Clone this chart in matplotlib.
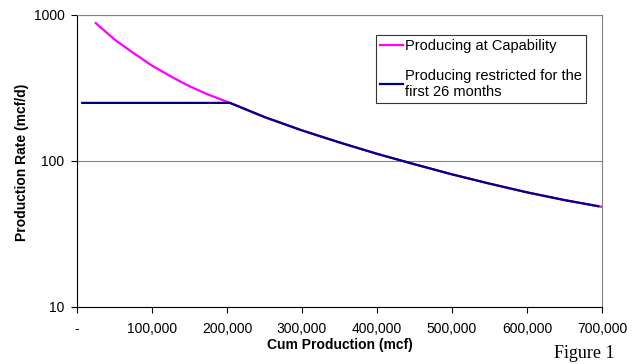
import matplotlib
matplotlib.use("Agg")
import matplotlib.pyplot as plt
from matplotlib.ticker import FixedLocator, FuncFormatter, NullLocator

# Data
cap_cum = [25000, 50000, 75000, 100000, 125000, 150000, 175000, 204000, 250000, 300000,
           350000, 400000, 450000, 500000, 550000, 600000, 650000, 700000]
cap_rate = [880, 680, 550, 450, 380, 325, 285, 250, 200, 162, 134, 112, 95, 81, 70, 61, 54, 48.5]

res_cum = [7000, 204000, 250000, 300000, 350000, 400000, 450000, 500000, 550000, 600000, 650000, 695000]
res_rate = [250, 250, 200, 162, 134, 112, 95, 81, 70, 61, 54, 49]

xticks = [0, 100000, 200000, 300000, 400000, 500000, 600000, 700000]
yticks = [10, 100, 1000]

plt.rcParams['font.family'] = ['Liberation Sans', 'DejaVu Sans']

fig = plt.figure(figsize=(6.41, 3.64), dpi=100)
ax = fig.add_axes([77/641, 1 - 307/364, (602-77)/641, (307-15)/364])

ax.plot(cap_cum, cap_rate, color='#ff00ff', lw=1.6, label='Producing at Capability', zorder=3)
ax.plot(res_cum, res_rate, color='#000080', lw=1.6,
        label='Producing restricted for the\nfirst 26 months', zorder=4)

ax.set_yscale('log')
ax.set_ylim(10, 1000)
ax.set_xlim(0, 700000)
ax.yaxis.set_major_locator(FixedLocator(yticks))
ax.yaxis.set_minor_locator(NullLocator())
ax.yaxis.set_major_formatter(FuncFormatter(lambda v, p: f"{int(round(v))}"))
ax.xaxis.set_major_locator(FixedLocator(xticks))
ax.xaxis.set_major_formatter(FuncFormatter(lambda v, p: '-' if v == 0 else f"{int(v):,}"))

ax.grid(axis='y', color='#808080', lw=0.8)
ax.set_axisbelow(True)
for s in ['top', 'right']:
    ax.spines[s].set_color('#808080')
    ax.spines[s].set_linewidth(0.8)
for s in ['left', 'bottom']:
    ax.spines[s].set_color('black')
    ax.spines[s].set_linewidth(0.8)

ax.tick_params(axis='both', direction='out', length=4, width=0.8, labelsize=10, colors='black')
ax.tick_params(axis='y', pad=5)
ax.tick_params(axis='x', pad=7)

ax.set_xlabel('Cum Production (mcf)', fontsize=10, fontweight='bold', va='center')
ax.set_ylabel('Production Rate (mcf/d)', fontsize=10, fontweight='bold', va='center')
ax.xaxis.set_label_coords(339.5/641, 1 - 345/364, transform=fig.transFigure)
ax.yaxis.set_label_coords(22/641, 1 - 162/364, transform=fig.transFigure)

leg = ax.legend(loc='upper right', bbox_to_anchor=(586/641, 1 - 35/364), bbox_transform=fig.transFigure,
                fontsize=10.5, frameon=True, fancybox=False, edgecolor='black',
                handlelength=1.6, handletextpad=0.15, labelspacing=1.1, borderpad=0.25,
                borderaxespad=0)
leg.get_frame().set_linewidth(0.8)

fig.text(615/641, 1 - 354/364, 'Figure 1', fontsize=13, family=['Liberation Serif', 'DejaVu Serif'],
         ha='right', va='center')

fig.savefig('out.png', dpi=100)
